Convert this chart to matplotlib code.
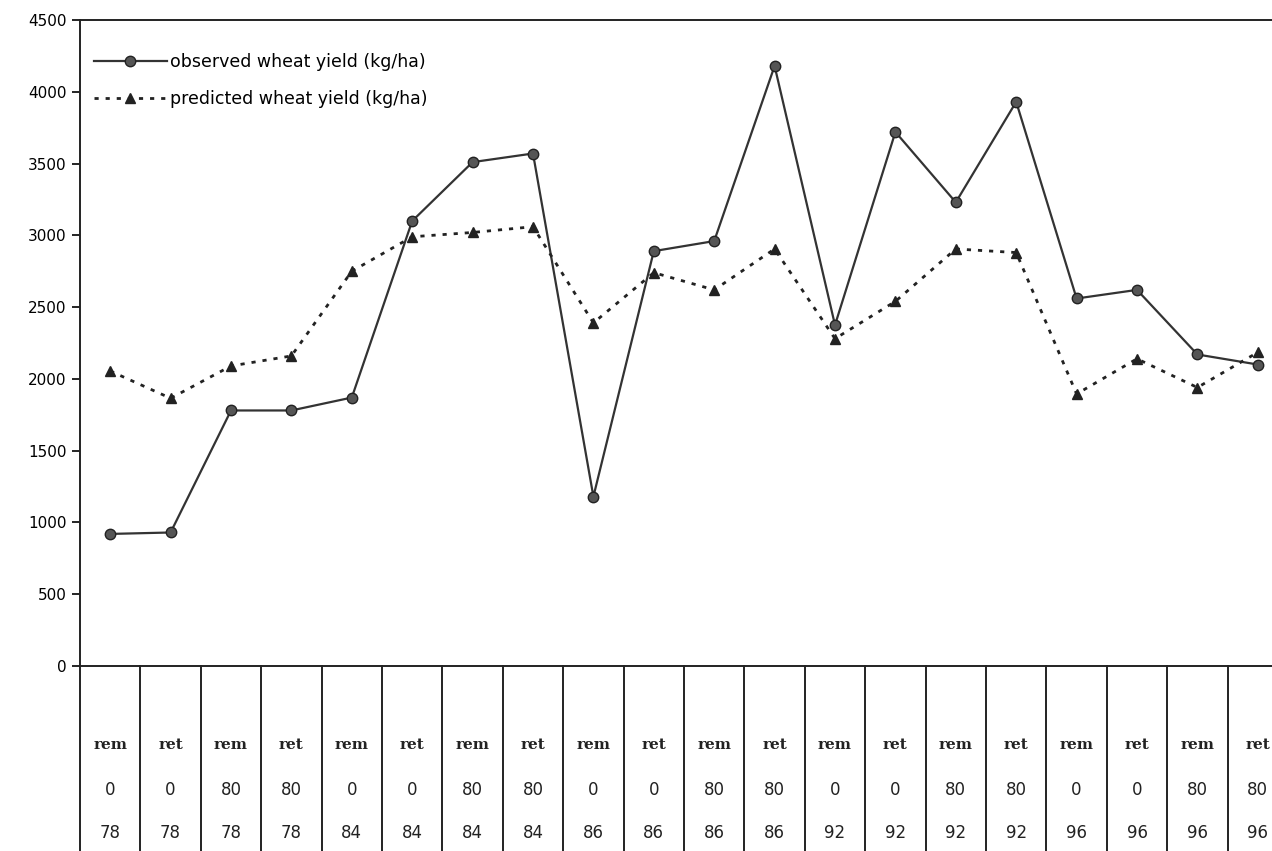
import numpy as np
from matplotlib import pyplot as plt
from matplotlib.lines import Line2D

residue = ['rem', 'ret'] * 10
nitrogen = ['0', '0', '80', '80'] * 5
year = ['78'] * 4 + ['84'] * 4 + ['86'] * 4 + ['92'] * 4 + ['96'] * 4

observed = [920, 930, 1780, 1780, 1870, 3100, 3510, 3570, 1180, 2890,
            2960, 4180, 2375, 3720, 3230, 3930, 2560, 2620, 2170, 2100]
predicted = [2055, 1865, 2090, 2160, 2750, 2990, 3020, 3060, 2390, 2740,
             2620, 2905, 2280, 2540, 2905, 2880, 1895, 2140, 1940, 2185]

fig = plt.figure(figsize=(12.72, 8.51), dpi=100)
ax = fig.add_axes([80/1272, 1 - 666/851, 1208/1272, 646/851])

x = np.arange(len(observed))
ax.plot(x, observed, '-', color='#333333', lw=1.6, marker='o', ms=7.5,
        markerfacecolor='#555555', markeredgecolor='#222222',
        label='observed wheat yield (kg/ha)')
ax.plot(x, predicted, color='#222222', lw=2.0, linestyle=(0, (1.5, 2.5)),
        marker='^', ms=7.5, markerfacecolor='#222222', markeredgecolor='#222222',
        label='predicted wheat yield (kg/ha)')

ax.set_xlim(-0.5, 19.5)
ax.set_ylim(0, 4500)
ax.set_yticks(np.arange(0, 4501, 500))
ax.set_xticks([])
ax.tick_params(axis='y', direction='out', length=6, width=1.2, labelsize=11)

ax.spines['right'].set_visible(False)
for s in ['left', 'bottom', 'top']:
    ax.spines[s].set_linewidth(1.4)
    ax.spines[s].set_color('#222222')

# category table under the axis
tr = ax.get_xaxis_transform()
for i in range(len(residue)):
    ax.text(i, -0.122, residue[i], transform=tr, ha='center', va='center',
            fontsize=11, family='DejaVu Serif', fontweight='bold', color='#222222')
    ax.text(i, -0.192, nitrogen[i], transform=tr, ha='center', va='center',
            fontsize=12, color='#222222')
    ax.text(i, -0.2585, year[i], transform=tr, ha='center', va='center',
            fontsize=12, color='#222222')
for k in range(len(residue) + 1):
    ax.add_line(Line2D([k - 0.5, k - 0.5], [0, -0.3], transform=tr,
                       color='#222222', lw=1.4, clip_on=False))

ax.legend(loc='upper left', bbox_to_anchor=(0.0, 0.97), frameon=False,
          fontsize=12.5, handlelength=4.2, handletextpad=0.2, borderaxespad=0.4,
          labelspacing=1.1)

fig.savefig('out.png', dpi=100)
